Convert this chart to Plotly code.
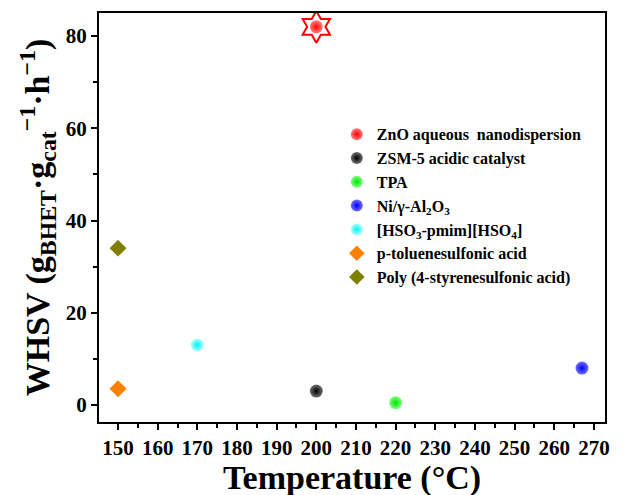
import plotly.graph_objects as go

# Catalysts: reaction temperature (°C) and WHSV (g_BHET·g_cat^-1·h^-1)
names = [
    "ZnO aqueous  nanodispersion",
    "ZSM-5 acidic catalyst",
    "TPA",
    "Ni/γ-Al<sub>2</sub>O<sub>3</sub>",
    "[HSO<sub>3</sub>-pmim][HSO<sub>4</sub>]",
    "p-toluenesulfonic acid",
    "Poly (4-styrenesulfonic acid)",
]
temperature = [200, 200, 220, 267, 170, 150, 150]
whsv = [82, 3.0, 0.5, 8.0, 13, 3.5, 34]
colors = ["#ff0000", "#000000", "#00e600", "#0000ff", "#00f0f0", "#ff8000", "#808000"]
highlights = ["#ff8080", "#707070", "#80ff80", "#7070ff", "#b0ffff", None, None]
symbols = ["circle", "circle", "circle", "circle", "circle", "diamond", "diamond"]

FONT = "Liberation Serif"

fig = go.Figure()

# Star highlighting the best-performing catalyst
fig.add_trace(go.Scatter(
    x=[temperature[0]], y=[whsv[0]], mode="markers", showlegend=False,
    marker=dict(symbol="hexagram-open", size=24, color="#ff0000",
                line=dict(width=2, color="#ff0000")),
    hoverinfo="skip",
))

for name, t, w, c, h, s in zip(names, temperature, whsv, colors, highlights, symbols):
    if s == "circle":
        marker = dict(symbol="circle", size=13, color=h,
                      gradient=dict(type="radial", color=c),
                      line=dict(width=0))
    else:
        marker = dict(symbol="diamond", size=13, color=c, line=dict(width=0))
    fig.add_trace(go.Scatter(x=[t], y=[w], mode="markers", name=f"<b>{name}</b>",
                             marker=marker))

# x-axis title placed below the tick labels
fig.add_annotation(text="<b>Temperature (°C)</b>", xref="paper", yref="paper",
                   x=0.5, y=-0.137, xanchor="center", yanchor="middle",
                   showarrow=False, font=dict(family=FONT, size=34, color="black"))

fig.update_layout(
    width=623, height=495,
    margin=dict(l=99, r=18, t=13, b=73),
    paper_bgcolor="white", plot_bgcolor="white",
    font=dict(family=FONT, color="black"),
    legend=dict(x=0.47, y=0.745, xanchor="left", yanchor="top",
                font=dict(family=FONT, size=16, color="black"),
                bgcolor="rgba(0,0,0,0)", itemsizing="constant", itemwidth=30),
    xaxis=dict(
        range=[145.2, 272.8], tickmode="linear", tick0=150, dtick=10,
        ticks="outside", ticklen=6, tickwidth=2, tickcolor="black",
        minor=dict(ticks="outside", ticklen=4, tickwidth=2, tickcolor="black", dtick=5),
        showline=True, linewidth=2, linecolor="black", mirror=True,
        showgrid=False, zeroline=False, automargin=False,
        tickfont=dict(family=FONT, size=21, color="black", weight="bold"),
    ),
    yaxis=dict(
        range=[-3.7, 85], tickmode="linear", tick0=0, dtick=20,
        ticks="outside", ticklen=6, tickwidth=2, tickcolor="black",
        minor=dict(ticks="outside", ticklen=4, tickwidth=2, tickcolor="black", dtick=10),
        showline=True, linewidth=2, linecolor="black", mirror=True,
        showgrid=False, zeroline=False, automargin=False,
        tickfont=dict(family=FONT, size=21, color="black", weight="bold"),
        title=dict(text="<b>WHSV (g<sub>BHET</sub>·g<sub>cat</sub><sup>−1</sup>·h<sup>−1</sup>)</b>",
                   font=dict(family=FONT, size=34, color="black"), standoff=6),
    ),
)

fig.write_html("out.html")
